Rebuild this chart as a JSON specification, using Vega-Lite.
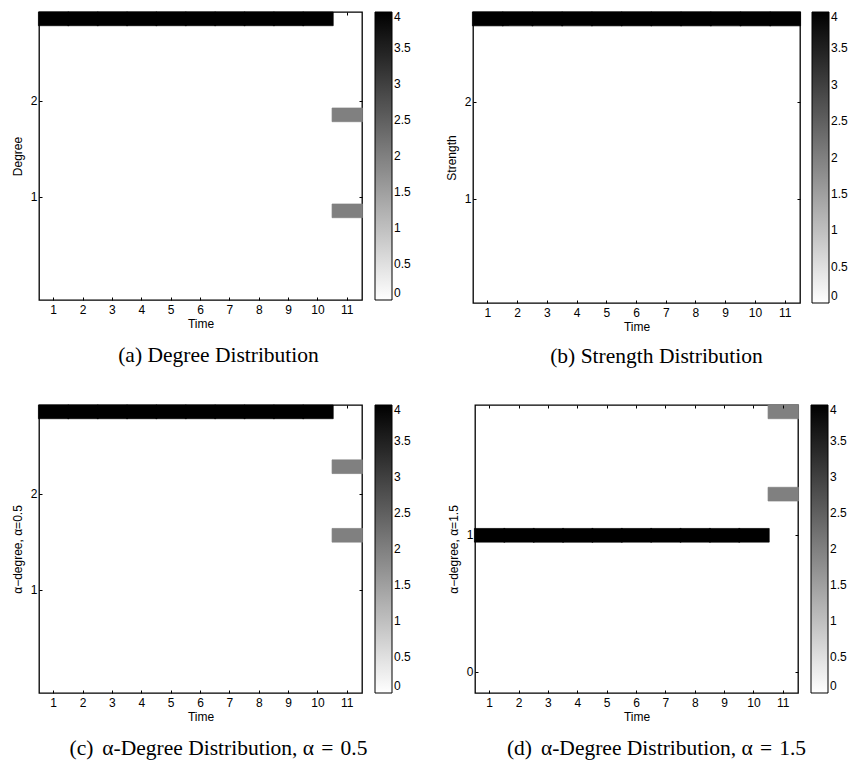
{
  "$schema": "https://vega.github.io/schema/vega-lite/v6.json",
  "background": "white",
  "padding": {"left": 10, "top": 10, "right": 0, "bottom": 0},
  "datasets": {
    "a": [
      {"time": 1, "degree": 2.857, "count": 4}, {"time": 2, "degree": 2.857, "count": 4},
      {"time": 3, "degree": 2.857, "count": 4}, {"time": 4, "degree": 2.857, "count": 4},
      {"time": 5, "degree": 2.857, "count": 4}, {"time": 6, "degree": 2.857, "count": 4},
      {"time": 7, "degree": 2.857, "count": 4}, {"time": 8, "degree": 2.857, "count": 4},
      {"time": 9, "degree": 2.857, "count": 4}, {"time": 10, "degree": 2.857, "count": 4},
      {"time": 11, "degree": 1.857, "count": 2}, {"time": 11, "degree": 0.857, "count": 2}
    ],
    "b": [
      {"time": 1, "degree": 2.857, "count": 4}, {"time": 2, "degree": 2.857, "count": 4},
      {"time": 3, "degree": 2.857, "count": 4}, {"time": 4, "degree": 2.857, "count": 4},
      {"time": 5, "degree": 2.857, "count": 4}, {"time": 6, "degree": 2.857, "count": 4},
      {"time": 7, "degree": 2.857, "count": 4}, {"time": 8, "degree": 2.857, "count": 4},
      {"time": 9, "degree": 2.857, "count": 4}, {"time": 10, "degree": 2.857, "count": 4},
      {"time": 11, "degree": 2.857, "count": 4}
    ],
    "c": [
      {"time": 1, "degree": 2.857, "count": 4}, {"time": 2, "degree": 2.857, "count": 4},
      {"time": 3, "degree": 2.857, "count": 4}, {"time": 4, "degree": 2.857, "count": 4},
      {"time": 5, "degree": 2.857, "count": 4}, {"time": 6, "degree": 2.857, "count": 4},
      {"time": 7, "degree": 2.857, "count": 4}, {"time": 8, "degree": 2.857, "count": 4},
      {"time": 9, "degree": 2.857, "count": 4}, {"time": 10, "degree": 2.857, "count": 4},
      {"time": 11, "degree": 2.286, "count": 2}, {"time": 11, "degree": 1.571, "count": 2}
    ],
    "d": [
      {"time": 1, "degree": 1, "count": 4}, {"time": 2, "degree": 1, "count": 4},
      {"time": 3, "degree": 1, "count": 4}, {"time": 4, "degree": 1, "count": 4},
      {"time": 5, "degree": 1, "count": 4}, {"time": 6, "degree": 1, "count": 4},
      {"time": 7, "degree": 1, "count": 4}, {"time": 8, "degree": 1, "count": 4},
      {"time": 9, "degree": 1, "count": 4}, {"time": 10, "degree": 1, "count": 4},
      {"time": 11, "degree": 1.9, "count": 2}, {"time": 11, "degree": 1.3, "count": 2}
    ]
  },
  "config": {
    "view": {"stroke": "black", "strokeWidth": 1.3},
    "axis": {
      "labelFont": "Liberation Sans", "labelFontSize": 12, "labelColor": "black",
      "titleFont": "Liberation Sans", "titleFontSize": 12, "titleFontWeight": "normal", "titleColor": "black",
      "domain": false, "grid": false, "tickColor": "black", "tickSize": -3, "tickWidth": 1,
      "labelAngle": 0
    },
    "legend": {
      "labelFont": "Liberation Sans", "labelFontSize": 12, "labelColor": "black", "labelOffset": 2
    },
    "title": {"font": "Liberation Serif", "fontSize": 21.5, "fontWeight": "normal", "color": "black"}
  },
  "resolve": {"scale": {"color": "independent"}, "legend": {"color": "independent"}},
  "vconcat": [
    {
      "resolve": {"scale": {"color": "independent"}, "legend": {"color": "independent"}},
      "hconcat": [
        {
          "width": 323, "height": 288,
          "data": {"name": "a"},
          "title": {"text": "(a) Degree Distribution", "orient": "bottom", "anchor": "middle", "frame": "group", "offset": 16, "dx": 18},
          "layer": [
            {
              "mark": {"type": "rect", "width": {"band": 1.04}, "strokeWidth": 0.7},
              "encoding": {
                "x": {"field": "time", "type": "ordinal", "title": "Time",
                  "scale": {"domain": [1,2,3,4,5,6,7,8,9,10,11], "paddingInner": 0, "paddingOuter": 0},
                  "axis": {"orient": "bottom", "labelPadding": 7, "titlePadding": 3}},
                "y": {"field": "degree", "type": "ordinal", "title": "Degree",
                  "scale": {"domain": [2.857,2.714,2.571,2.429,2.286,2.143,2,1.857,1.714,1.571,1.429,1.286,1.143,1,0.857,0.714,0.571,0.429,0.286,0.143,0], "paddingInner": 0, "paddingOuter": 0},
                  "axis": {"orient": "left", "values": [1, 2], "labelPadding": 5, "titlePadding": 6}},
                "color": {"field": "count", "type": "quantitative",
                  "scale": {"domain": [0, 4], "range": ["#ffffff", "#000000"], "interpolate": "rgb"},
                  "legend": {"type": "gradient", "title": null, "orient": "right", "direction": "vertical", "gradientLength": 288, "gradientThickness": 17, "gradientStrokeColor": "black", "gradientStrokeWidth": 1, "values": [0,0.5,1,1.5,2,2.5,3,3.5,4], "format": ".2~g", "labelOverlap": false, "offset": 12, "padding": 0}},
                "stroke": {"condition": {"test": "datum.count >= 4", "value": "#000000"}, "value": "#808080"}
              }
            },
            {
              "mark": {"type": "rect", "opacity": 0},
              "encoding": {
                "x": {"field": "time", "type": "ordinal", "axis": {"orient": "top", "labels": false, "title": null}},
                "y": {"field": "degree", "type": "ordinal", "axis": {"orient": "right", "labels": false, "title": null, "values": [1, 2]}}
              }
            }
          ],
          "resolve": {"axis": {"x": "independent", "y": "independent"}}
        },
        {
          "width": 327, "height": 291,
          "data": {"name": "b"},
          "title": {"text": "(b) Strength Distribution", "orient": "bottom", "anchor": "middle", "frame": "group", "offset": 14, "dx": 20},
          "layer": [
            {
              "mark": {"type": "rect", "width": {"band": 1.04}, "strokeWidth": 0.7},
              "encoding": {
                "x": {"field": "time", "type": "ordinal", "title": "Time",
                  "scale": {"domain": [1,2,3,4,5,6,7,8,9,10,11], "paddingInner": 0, "paddingOuter": 0},
                  "axis": {"orient": "bottom", "labelPadding": 7, "titlePadding": 3}},
                "y": {"field": "degree", "type": "ordinal", "title": "Strength",
                  "scale": {"domain": [2.857,2.714,2.571,2.429,2.286,2.143,2,1.857,1.714,1.571,1.429,1.286,1.143,1,0.857,0.714,0.571,0.429,0.286,0.143,0], "paddingInner": 0, "paddingOuter": 0},
                  "axis": {"orient": "left", "values": [1, 2], "labelPadding": 5, "titlePadding": 6}},
                "color": {"field": "count", "type": "quantitative",
                  "scale": {"domain": [0, 4], "range": ["#ffffff", "#000000"], "interpolate": "rgb"},
                  "legend": {"type": "gradient", "title": null, "orient": "right", "direction": "vertical", "gradientLength": 291, "gradientThickness": 17, "gradientStrokeColor": "black", "gradientStrokeWidth": 1, "values": [0,0.5,1,1.5,2,2.5,3,3.5,4], "format": ".2~g", "labelOverlap": false, "offset": 11, "padding": 0}},
                "stroke": {"condition": {"test": "datum.count >= 4", "value": "#000000"}, "value": "#808080"}
              }
            },
            {
              "mark": {"type": "rect", "opacity": 0},
              "encoding": {
                "x": {"field": "time", "type": "ordinal", "axis": {"orient": "top", "labels": false, "title": null}},
                "y": {"field": "degree", "type": "ordinal", "axis": {"orient": "right", "labels": false, "title": null, "values": [1, 2]}}
              }
            }
          ],
          "resolve": {"axis": {"x": "independent", "y": "independent"}}
        }
      ],
      "spacing": 32
    },
    {
      "resolve": {"scale": {"color": "independent"}, "legend": {"color": "independent"}},
      "hconcat": [
        {
          "width": 323, "height": 288,
          "data": {"name": "c"},
          "title": {"text": "(c)\u00a0\u2006α-Degree Distribution, α\u2004=\u20040.5", "orient": "bottom", "anchor": "middle", "frame": "group", "offset": 16, "dx": 18},
          "layer": [
            {
              "mark": {"type": "rect", "width": {"band": 1.04}, "strokeWidth": 0.7},
              "encoding": {
                "x": {"field": "time", "type": "ordinal", "title": "Time",
                  "scale": {"domain": [1,2,3,4,5,6,7,8,9,10,11], "paddingInner": 0, "paddingOuter": 0},
                  "axis": {"orient": "bottom", "labelPadding": 7, "titlePadding": 3}},
                "y": {"field": "degree", "type": "ordinal", "title": "α−degree, α=0.5",
                  "scale": {"domain": [2.857,2.714,2.571,2.429,2.286,2.143,2,1.857,1.714,1.571,1.429,1.286,1.143,1,0.857,0.714,0.571,0.429,0.286,0.143,0], "paddingInner": 0, "paddingOuter": 0},
                  "axis": {"orient": "left", "values": [1, 2], "labelPadding": 5, "titlePadding": 6}},
                "color": {"field": "count", "type": "quantitative",
                  "scale": {"domain": [0, 4], "range": ["#ffffff", "#000000"], "interpolate": "rgb"},
                  "legend": {"type": "gradient", "title": null, "orient": "right", "direction": "vertical", "gradientLength": 288, "gradientThickness": 17, "gradientStrokeColor": "black", "gradientStrokeWidth": 1, "values": [0,0.5,1,1.5,2,2.5,3,3.5,4], "format": ".2~g", "labelOverlap": false, "offset": 12, "padding": 0}},
                "stroke": {"condition": {"test": "datum.count >= 4", "value": "#000000"}, "value": "#808080"}
              }
            },
            {
              "mark": {"type": "rect", "opacity": 0},
              "encoding": {
                "x": {"field": "time", "type": "ordinal", "axis": {"orient": "top", "labels": false, "title": null}},
                "y": {"field": "degree", "type": "ordinal", "axis": {"orient": "right", "labels": false, "title": null, "values": [1, 2]}}
              }
            }
          ],
          "resolve": {"axis": {"x": "independent", "y": "independent"}}
        },
        {
          "width": 323, "height": 288,
          "data": {"name": "d"},
          "title": {"text": "(d)\u00a0\u2006α-Degree Distribution, α\u2004=\u20041.5", "orient": "bottom", "anchor": "middle", "frame": "group", "offset": 16, "dx": 20},
          "layer": [
            {
              "mark": {"type": "rect", "width": {"band": 1.04}, "strokeWidth": 0.7},
              "encoding": {
                "x": {"field": "time", "type": "ordinal", "title": "Time",
                  "scale": {"domain": [1,2,3,4,5,6,7,8,9,10,11], "paddingInner": 0, "paddingOuter": 0},
                  "axis": {"orient": "bottom", "labelPadding": 7, "titlePadding": 3}},
                "y": {"field": "degree", "type": "ordinal", "title": "α−degree, α=1.5",
                  "scale": {"domain": [1.9,1.8,1.7,1.6,1.5,1.4,1.3,1.2,1.1,1,0.9,0.8,0.7,0.6,0.5,0.4,0.3,0.2,0.1,0,-0.1], "paddingInner": 0, "paddingOuter": 0},
                  "axis": {"orient": "left", "values": [0, 1], "labelPadding": 5, "titlePadding": 6}},
                "color": {"field": "count", "type": "quantitative",
                  "scale": {"domain": [0, 4], "range": ["#ffffff", "#000000"], "interpolate": "rgb"},
                  "legend": {"type": "gradient", "title": null, "orient": "right", "direction": "vertical", "gradientLength": 288, "gradientThickness": 17, "gradientStrokeColor": "black", "gradientStrokeWidth": 1, "values": [0,0.5,1,1.5,2,2.5,3,3.5,4], "format": ".2~g", "labelOverlap": false, "offset": 12, "padding": 0}},
                "stroke": {"condition": {"test": "datum.count >= 4", "value": "#000000"}, "value": "#808080"}
              }
            },
            {
              "mark": {"type": "rect", "opacity": 0},
              "encoding": {
                "x": {"field": "time", "type": "ordinal", "axis": {"orient": "top", "labels": false, "title": null}},
                "y": {"field": "degree", "type": "ordinal", "axis": {"orient": "right", "labels": false, "title": null, "values": [0, 1]}}
              }
            }
          ],
          "resolve": {"axis": {"x": "independent", "y": "independent"}}
        }
      ],
      "spacing": 34
    }
  ],
  "spacing": 34
}
